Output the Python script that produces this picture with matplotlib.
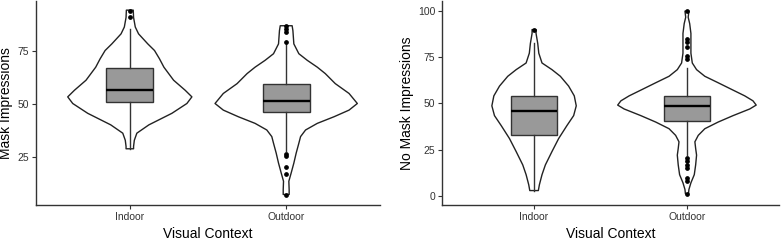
import numpy as np
import matplotlib
matplotlib.use("Agg")
from matplotlib import pyplot as plt

plt.rcParams['font.family'] = ['Liberation Sans', 'DejaVu Sans']

categories = ["Indoor", "Outdoor"]

# violin outlines: value, half width (x units)
mask_in_y = [93.9, 90.5, 86, 82.8, 78.1, 75, 71.1, 67.2, 61.1, 56.4, 53.3,
             50.2, 45.6, 40.2, 36.3, 33, 30.1, 29]
mask_in_w = [0.022, 0.024, 0.035, 0.056, 0.115, 0.158, 0.190, 0.218, 0.280,
             0.354, 0.397, 0.365, 0.269, 0.122, 0.045, 0.029, 0.024, 0.024]
mask_out_y = [86.6, 84.3, 78.1, 73.5, 70.4, 67.2, 64.2, 59.5, 54.9, 50.2,
              47.1, 44.0, 40.9, 37.8, 34.7, 31.6, 27.0, 22.3, 17.7, 13.8,
              9.9, 7.6]
mask_out_w = [0.038, 0.043, 0.049, 0.081, 0.135, 0.199, 0.25, 0.314, 0.402,
              0.455, 0.402, 0.306, 0.199, 0.124, 0.092, 0.081, 0.064, 0.049,
              0.032, 0.017, 0.019, 0.019]
nomask_in_y = [90.0, 87.9, 82.5, 77.2, 71.9, 68.3, 64.7, 59.4, 54.1, 48.7,
               43.4, 38.0, 31.0, 23.9, 16.7, 11.4, 6.0, 2.8]
nomask_in_w = [0.013, 0.013, 0.024, 0.031, 0.052, 0.117, 0.172, 0.226, 0.263,
               0.276, 0.259, 0.215, 0.161, 0.117, 0.074, 0.052, 0.035, 0.028]
nomask_out_y = [100, 96.7, 93.2, 87.9, 82.5, 77.2, 71.9, 68.3, 64.7, 61.2,
                57.6, 54.1, 51.4, 49.1, 47.0, 43.4, 39.9, 36.3, 32.7, 29.2,
                25.6, 22.0, 16.7, 11.4, 7.0, 3.4, 1.1]
nomask_out_w = [0.013, 0.008, 0.018, 0.026, 0.026, 0.026, 0.035, 0.063, 0.117,
                0.204, 0.292, 0.378, 0.432, 0.453, 0.411, 0.302, 0.204, 0.117,
                0.074, 0.052, 0.057, 0.063, 0.057, 0.048, 0.026, 0.013, 0.010]

# box stats: whisker low, q1, median, q3, whisker high
mask_in_box = [29, 51, 56.7, 66.6, 85.1]
mask_in_out = [90.5, 93.5]
mask_out_box = [28, 46.0, 51.4, 59.1, 78.5]
mask_out_out = [79, 83.5, 85, 86.3, 26.5, 25.8, 20.5, 17.4, 7.5]
nomask_in_box = [2.8, 32.9, 45.9, 54.1, 82.7]
nomask_in_out = [89.6]
nomask_out_box = [22.0, 40.7, 48.8, 54.1, 69.2]
nomask_out_out = [100, 85, 83.5, 80.5, 75.5, 74.3, 20.6, 18.8, 16.7, 14.8,
                  9.6, 8.2, 1.2]


def stats(b, fl):
    return dict(whislo=b[0], q1=b[1], med=b[2], q3=b[3], whishi=b[4],
                fliers=fl)


def panel(ax, violins, boxes, ylabel, ylim, yticks):
    for i, (vy, vw) in enumerate(violins):
        vy = np.array(vy)
        vw = np.array(vw)
        pos = i + 1
        xs = np.concatenate([pos - vw, (pos + vw)[::-1]])
        ys = np.concatenate([vy, vy[::-1]])
        ax.fill(xs, ys, facecolor='white', edgecolor='#222222', lw=1.0,
                joinstyle='round', zorder=1)
    ax.bxp(boxes, positions=[1, 2], widths=0.3, patch_artist=True,
           showcaps=False,
           boxprops=dict(facecolor='#999999', edgecolor='#333333', lw=1.0),
           medianprops=dict(color='black', lw=1.7),
           whiskerprops=dict(color='#333333', lw=1.0),
           flierprops=dict(marker='o', markerfacecolor='black',
                           markeredgecolor='black', markersize=2.4),
           zorder=2)
    ax.set_xlim(0.4, 2.6)
    ax.set_ylim(*ylim)
    ax.set_yticks(yticks)
    ax.set_xticks([1, 2])
    ax.set_xticklabels(categories)
    for s in ['top', 'right']:
        ax.spines[s].set_visible(False)
    for s in ['left', 'bottom']:
        ax.spines[s].set_color('#333333')
        ax.spines[s].set_linewidth(1.0)
    ax.tick_params(labelsize=7.5, colors='#333333', length=3, width=0.8,
                   pad=2)
    ax.set_xlabel("Visual Context", fontsize=10, labelpad=4)
    ax.set_ylabel(ylabel, fontsize=10, labelpad=3)


fig = plt.figure(figsize=(7.84, 2.4), dpi=100)
ax1 = fig.add_axes([0.0459, 0.146, 0.4388, 0.85])
ax2 = fig.add_axes([0.5642, 0.146, 0.429, 0.85])

panel(ax1, [(mask_in_y, mask_in_w), (mask_out_y, mask_out_w)],
      [stats(mask_in_box, mask_in_out), stats(mask_out_box, mask_out_out)],
      "Mask Impressions", (2.7, 98.2), [25, 50, 75])
panel(ax2, [(nomask_in_y, nomask_in_w), (nomask_out_y, nomask_out_w)],
      [stats(nomask_in_box, nomask_in_out),
       stats(nomask_out_box, nomask_out_out)],
      "No Mask Impressions", (-5, 105.5), [0, 25, 50, 75, 100])

fig.savefig('out.png', dpi=100)
